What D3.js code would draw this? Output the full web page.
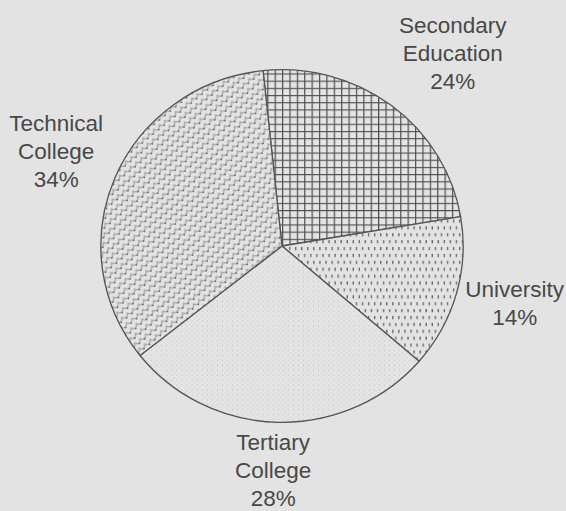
<!DOCTYPE html>
<html>
<head>
<meta charset="utf-8">
<script src="https://cdn.jsdelivr.net/npm/d3@7"></script>
<style>
    html, body { margin: 0; padding: 0; background: #e3e3e3; }
    svg { display: block; }
</style>
</head>
<body>
<svg id="chart" width="566" height="511"></svg>
<script>
// chart data
const categories = ["Secondary Education", "University", "Tertiary College", "Technical College"];
const values = [24, 14, 28, 34];
const patterns = ["grid", "dashes", "fine", "scales"];

class PieChart {
    constructor(canvas, width, height) {
        this.canvas = canvas;
        this.width = width;
        this.height = height;
        this.center = { x: 282, y: 246 };
        this.radius = 179;
        this.data = categories.map((c, i) => ({ name: c, value: values[i], pattern: patterns[i] }));
    }

    graphPatterns() {
        const defs = this.canvas.append("defs");

        // square cross hatch
        const grid = defs.append("pattern")
            .attr("id", "grid")
            .attr("patternUnits", "userSpaceOnUse")
            .attr("width", 7.3).attr("height", 7.3);
        grid.append("rect").attr("width", 7.3).attr("height", 7.3).attr("fill", "#e4e4e4");
        grid.append("path")
            .attr("d", "M0.6,0V7.3M0,0.6H7.3")
            .attr("stroke", "#505050")
            .attr("stroke-width", 1.2);

        // staggered short dashes
        const dashes = defs.append("pattern")
            .attr("id", "dashes")
            .attr("patternUnits", "userSpaceOnUse")
            .attr("width", 6).attr("height", 14);
        dashes.append("rect").attr("width", 6).attr("height", 14).attr("fill", "#e3e3e3");
        dashes.append("path")
            .attr("d", "M1.5,1V4.2M4.5,8V11.2")
            .attr("stroke", "#666")
            .attr("stroke-width", 1.3);

        // faint fine dots
        const fine = defs.append("pattern")
            .attr("id", "fine")
            .attr("patternUnits", "userSpaceOnUse")
            .attr("width", 5).attr("height", 5);
        fine.append("rect").attr("width", 5).attr("height", 5).attr("fill", "#e5e5e5");
        fine.append("circle").attr("cx", 1.2).attr("cy", 1.2).attr("r", 0.6).attr("fill", "#bdbdbd");
        fine.append("circle").attr("cx", 3.7).attr("cy", 3.7).attr("r", 0.5).attr("fill", "#c8c8c8");

        // scale pattern: light arcs with dark dots
        const scales = defs.append("pattern")
            .attr("id", "scales")
            .attr("patternUnits", "userSpaceOnUse")
            .attr("patternTransform", "rotate(-40)")
            .attr("width", 7).attr("height", 7);
        scales.append("rect").attr("width", 7).attr("height", 7).attr("fill", "#e3e3e3");
        scales.append("path")
            .attr("d", "M0.5,2.5A3,3 0 0 0 6.5,2.5")
            .attr("fill", "none")
            .attr("stroke", "#999")
            .attr("stroke-width", 1);
        scales.append("circle").attr("cx", 3.5).attr("cy", 6.3).attr("r", 0.8).attr("fill", "#5a5a5a");
    }

    graphArcs() {
        this.pie = d3.pie()
            .sort(null)
            .startAngle(-6 * Math.PI / 180)
            .endAngle(-6 * Math.PI / 180 + 2 * Math.PI)
            .value(d => d.value);

        this.arcPath = d3.arc()
            .innerRadius(0)
            .outerRadius(this.radius);

        this.arcs = this.pie(this.data);

        this.graph = this.canvas.append("g")
            .attr("transform", `translate(${this.center.x}, ${this.center.y}) scale(1.012, 0.985)`);

        this.graph.selectAll("path")
            .data(this.arcs)
            .enter()
            .append("path")
            .attr("d", this.arcPath)
            .attr("fill", d => `url(#${d.data.pattern})`)
            .attr("stroke", "#555")
            .attr("stroke-width", 1.3)
            .attr("stroke-linejoin", "round");
    }

    graphLabels() {
        const gap = 8;
        const lineHeight = 28;
        // small hand nudges so the label blocks sit where the original placed them
        const nudge = { "Secondary Education": [19, 8], "University": [0, -8], "Tertiary College": [-4, -3] };

        const labels = this.canvas.append("g")
            .selectAll("g")
            .data(this.arcs)
            .enter()
            .append("g");

        const text = labels.append("text")
            .attr("text-anchor", "middle")
            .attr("font-family", "'Liberation Sans', Arial, sans-serif")
            .attr("font-size", 22.5)
            .attr("fill", "#484848");

        text.selectAll("tspan")
            .data(d => d.data.name.split(" ").concat([`${d.data.value}%`]))
            .enter()
            .append("tspan")
            .attr("x", 0)
            .attr("y", (d, i) => i * lineHeight)
            .text(d => d);

        // push each label block out along the slice bisector until it clears the pie
        labels.each((d, i, n) => {
            const box = n[i].getBBox();
            const a = (d.startAngle + d.endAngle) / 2;
            const dir = { x: Math.sin(a), y: -Math.cos(a) };
            let dist = this.radius;
            for (; dist < this.radius + 200; dist += 0.5) {
                const cx = dir.x * dist, cy = dir.y * dist;
                const x0 = cx - box.width / 2, x1 = cx + box.width / 2;
                const y0 = cy - box.height / 2, y1 = cy + box.height / 2;
                const nx = Math.max(x0, Math.min(0, x1));
                const ny = Math.max(y0, Math.min(0, y1));
                if (Math.hypot(nx, ny) >= this.radius + gap) break;
            }
            const [ox, oy] = nudge[d.data.name] || [0, 0];
            const tx = this.center.x + dir.x * dist - (box.x + box.width / 2) + ox;
            const ty = this.center.y + dir.y * dist - (box.y + box.height / 2) + oy;
            d3.select(n[i]).attr("transform", `translate(${tx}, ${ty})`);
        });
    }

    grapher() {
        this.graphPatterns();
        this.graphArcs();
        this.graphLabels();
    }
}

const canvas = d3.select("#chart");
const chart = new PieChart(canvas, 566, 511);
chart.grapher();
</script>
</body>
</html>
